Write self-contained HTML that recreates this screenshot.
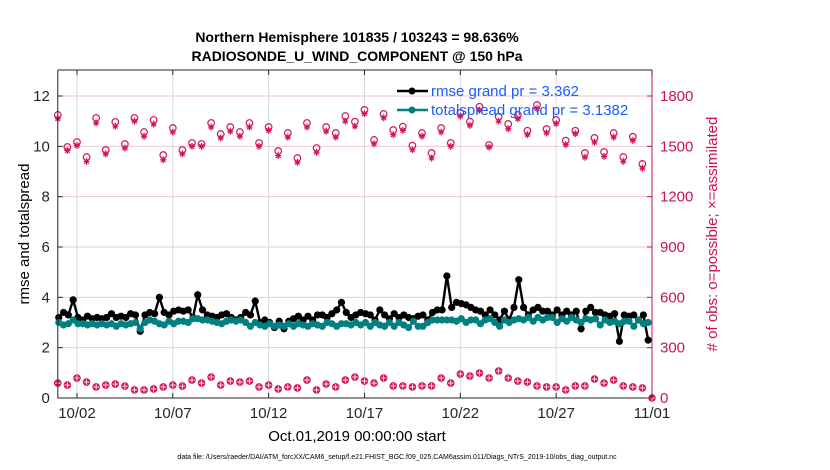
<!DOCTYPE html>
<html><head><meta charset="utf-8"><style>
body{margin:0;background:#fff;}
svg{display:block;font-family:"Liberation Sans",sans-serif;}
</style></head><body>
<svg id="chart" width="830" height="470" viewBox="0 0 830 470" xmlns="http://www.w3.org/2000/svg">
<text x="357" y="42" text-anchor="middle" font-size="14" font-weight="bold">Northern Hemisphere 101835 / 103243 = 98.636%</text>
<text x="357" y="61" text-anchor="middle" font-size="14" font-weight="bold">RADIOSONDE_U_WIND_COMPONENT @ 150 hPa</text>
<g id="grid"></g>
<g id="marks"></g>
<g id="axes"></g>
<text transform="translate(29,234) rotate(-90)" text-anchor="middle" font-size="15">rmse and totalspread</text>
<text transform="translate(717,234) rotate(-90)" text-anchor="middle" font-size="15" fill="#cc1155">
# of obs: o=possible; ×=assimilated</text>
<text x="357" y="441" text-anchor="middle" font-size="15">Oct.01,2019 00:00:00 start</text>
<text x="397" y="459" text-anchor="middle" font-size="7">data file: /Users/raeder/DAI/ATM_forcXX/CAM6_setup/f.e21.FHIST_BGC.f09_025.CAM6assim.011/Diags_NTrS_2019-10/obs_diag_output.nc</text>
<g id="legend">
<line x1="397" y1="91" x2="428" y2="91" stroke="#000" stroke-width="2.5"/>
<circle cx="412" cy="91" r="3.5" fill="#000"/>
<text x="431" y="96" font-size="15" fill="#1a5cff">rmse grand pr = 3.362</text>
<line x1="397" y1="110" x2="428" y2="110" stroke="#008080" stroke-width="2.5"/>
<circle cx="412" cy="110" r="3.5" fill="#008080"/>
<text x="431" y="115" font-size="15" fill="#1a5cff">totalspread grand pr = 3.1382</text>
</g>
</svg>
<script>
const rmse=[3.2,3.4,3.3,3.9,3.2,3.1,3.25,3.15,3.2,3.15,
3.2,3.35,3.2,3.25,3.2,3.35,3.3,2.65,3.3,3.4,
3.35,4.0,3.4,3.3,3.45,3.5,3.45,3.5,3.2,4.1,
3.5,3.3,3.25,3.2,3.3,3.35,3.2,3.1,3.2,3.4,
3.3,3.85,3.0,3.1,3.0,2.8,3.05,2.75,3.05,3.15,
3.25,3.1,3.25,3.1,3.3,3.3,3.2,3.35,3.5,3.8,
3.4,3.2,3.3,3.4,3.35,3.3,3.1,3.5,3.3,3.15,
3.35,3.2,3.3,3.2,3.15,3.25,3.3,3.1,3.4,3.5,
3.5,4.85,3.6,3.8,3.75,3.7,3.6,3.5,3.45,3.3,
3.5,3.3,3.1,3.45,3.1,3.6,4.7,3.6,3.3,3.5,
3.6,3.45,3.45,3.3,3.5,3.3,3.45,3.3,3.45,2.75,
3.45,3.6,3.4,3.4,3.3,3.25,3.35,2.25,3.3,3.25,
3.3,3.1,3.3,2.3];
const spread=[3.0,2.9,2.95,3.1,2.95,2.95,2.9,2.95,2.9,2.95,
2.9,2.95,2.85,2.95,2.9,2.95,3.0,2.75,3.0,3.1,
3.05,2.95,2.9,3.05,2.95,3.05,3.05,3.0,3.15,3.15,
3.1,3.1,3.05,3.0,2.95,3.05,3.1,3.05,3.1,3.0,
2.85,3.0,2.9,2.85,2.95,2.85,2.9,2.85,2.95,2.85,
2.95,2.9,2.85,2.95,2.9,2.85,3.0,2.95,2.85,2.95,
2.95,2.9,3.0,2.9,3.0,2.85,3.0,2.9,2.85,3.0,
2.85,3.0,2.9,2.8,3.05,2.85,2.85,3.0,3.1,3.1,
3.1,3.1,3.1,3.05,3.15,3.0,3.1,3.1,2.95,3.1,
3.15,3.0,2.85,3.1,3.0,3.1,3.15,3.1,3.2,3.05,
3.2,3.1,3.2,3.2,3.0,3.15,3.05,3.2,3.1,3.0,
3.15,3.1,3.15,2.9,3.1,3.0,3.05,2.95,3.05,3.05,
2.85,3.1,2.95,3.0];
const possible=[1687,1496,1526,1436,1669,1478,1645,1514,1669,1585,1657,1448,1609,1478,1520,1514,1639,1573,1615,1585,1639,1520,1615,1472,1579,1430,1639,1490,1615,1579,1681,
1647,1717,1538,1693,1597,1617,1504,1579,1460,1609,1520,1699,1647,1736,1508,1677,1633,1687,1593,1746,1603,1657,1534,1593,1460,1550,1466,1579,1436,1557,1395];
const used=[1665,1475,1505,1410,1640,1455,1620,1490,1650,1560,1632,1420,1585,1455,1500,1500,1615,1550,1590,1560,1615,1500,1595,1445,1555,1405,1615,1465,1590,1555,1650,
1620,1695,1515,1670,1570,1595,1480,1560,1430,1585,1500,1680,1625,1715,1495,1650,1605,1665,1570,1725,1580,1635,1510,1575,1435,1525,1440,1555,1410,1535,1370];
const lowCount=[89,77,119,95,66,77,83,71,48,48,54,66,77,71,107,89,125,77,101,95,101,66,77,54,66,60,107,48,83,66,
107,125,101,89,119,72,72,66,72,72,119,89,143,131,149,119,161,119,101,95,72,66,66,48,72,72,113,89,107,72,66,60,0];
const xTicks=["10/02","10/07","10/12","10/17","10/22","10/27","11/01"];
const xTickDays=[1,6,11,16,21,26,31];
const leftTicks=[0,2,4,6,8,10,12];
const rightTicks=[0,300,600,900,1200,1500,1800];

const NS="http://www.w3.org/2000/svg";
const L=57.8,R=652,T=70,B=398;
const xs=d=>L+d*(R-L)/31;
const yl=v=>B-v*(B-96)/12;
const yr=v=>B-v*(B-96)/1800;
const pink="#d4145a";
function mk(tag,attrs,parent){const e=document.createElementNS(NS,tag);for(const k in attrs)e.setAttribute(k,attrs[k]);parent.appendChild(e);return e;}
const grid=document.getElementById('grid'),marks=document.getElementById('marks'),axes=document.getElementById('axes');
leftTicks.forEach(v=>{if(v>0){const g=mk('line',{x1:L,x2:R,y1:yl(v),y2:yl(v),stroke:'#f2c6d6','stroke-width':1},grid);

}});
xTickDays.forEach(d=>{const g=mk('line',{x1:xs(d),x2:xs(d),y1:T,y2:B,stroke:'#d8d8d8','stroke-width':1},grid);

});
lowCount.forEach((v,i)=>{const c=mk('g',{},marks);


const x=xs(i*0.5),y=yr(v);
mk('circle',{cx:x,cy:y,r:3.8,fill:pink},c);
mk('path',{d:`M${x-2.8} ${y}H${x+2.8}M${x} ${y-2.8}V${y+2.8}`,stroke:'#fff','stroke-width':0.8},c);});
possible.forEach((v,i)=>{const x=xs(i*0.5),y=yr(v);
const c=mk('circle',{cx:x,cy:y,r:3.3,fill:'none',stroke:pink,'stroke-width':1.2},marks);

});
used.forEach((v,i)=>{const x=xs(i*0.5),y=yr(v);
const p=mk('path',{d:`M${x-3} ${y}H${x+3}M${x} ${y-3.5}V${y+3.5}M${x-2.3} ${y-2.3}L${x+2.3} ${y+2.3}M${x-2.3} ${y+2.3}L${x+2.3} ${y-2.3}`,stroke:pink,'stroke-width':1.2},marks);

});
function series(arr,color,name){
 const pts=arr.map((v,i)=>[xs(i*0.25+0.05),yl(v)]);
 const pl=mk('polyline',{points:pts.map(p=>p.join(',')).join(' '),fill:'none',stroke:color,'stroke-width':2.4},marks);
 
 
 pts.forEach(p=>{const c=mk('circle',{cx:p[0],cy:p[1],r:3.6,fill:color},marks);
 
 });
}
series(rmse,'#000','rmse');
series(spread,'#008080','totalspread');
const fr=mk('path',{d:`M${L} ${T}H${R}M${L} ${T}V${B}H${R}`,fill:'none',stroke:'#262626','stroke-width':1},axes);


const ra=mk('line',{x1:R,x2:R,y1:T,y2:B,stroke:'#cc1155','stroke-width':1},axes);


leftTicks.forEach(v=>{mk('line',{x1:L,x2:L+5,y1:yl(v),y2:yl(v),stroke:'#262626'},axes);
const t=mk('text',{x:L-8,y:yl(v)+5,'text-anchor':'end','font-size':15,fill:'#262626'},axes);t.textContent=v;

});
rightTicks.forEach(v=>{mk('line',{x1:R-5,x2:R,y1:yr(v),y2:yr(v),stroke:'#cc1155'},axes);
const t=mk('text',{x:R+8,y:yr(v)+5,'font-size':15,fill:'#cc1155'},axes);t.textContent=v;

});
xTicks.forEach((s,i)=>{const x=xs(xTickDays[i]);mk('line',{x1:x,x2:x,y1:B,y2:B-5,stroke:'#262626'},axes);mk('line',{x1:x,x2:x,y1:T,y2:T+5,stroke:'#262626'},axes);
const t=mk('text',{x:x,y:418,'text-anchor':'middle','font-size':15,fill:'#262626'},axes);t.textContent=s;

});
</script>
</body></html>
